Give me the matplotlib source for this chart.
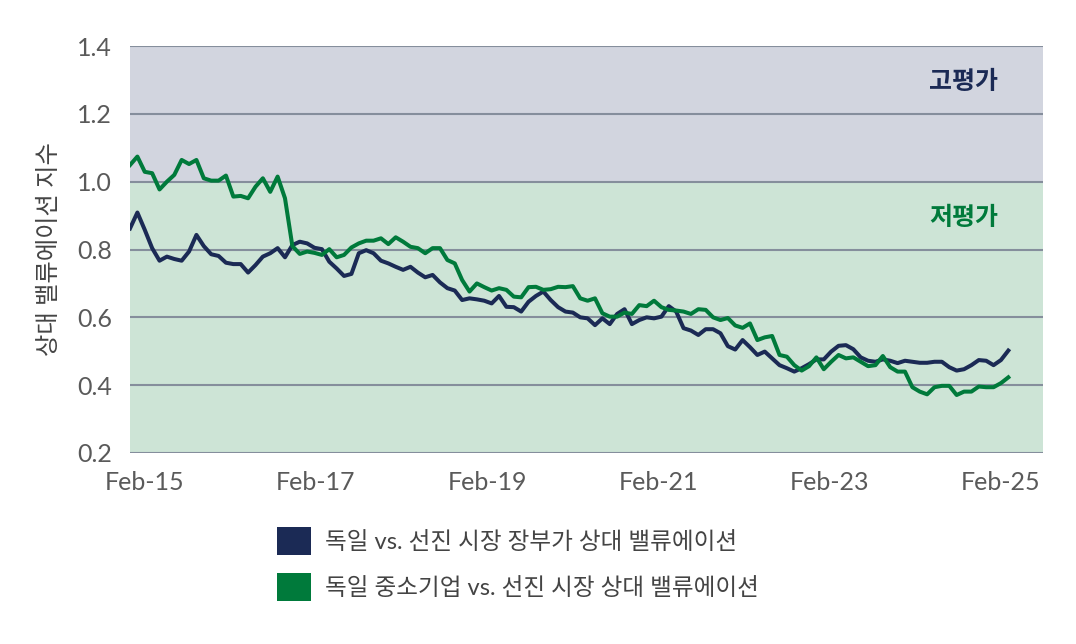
import matplotlib
matplotlib.use("Agg")
import matplotlib.pyplot as plt
from matplotlib.patches import Patch

# monthly relative valuation
germany_pb = [
  0.862, 0.909, 0.858, 0.804, 0.767, 0.779, 0.772, 0.767, 0.794, 0.843,
  0.810, 0.786, 0.781, 0.761, 0.757, 0.757, 0.732, 0.754, 0.779, 0.789,
  0.804, 0.777, 0.813, 0.823, 0.818, 0.805, 0.801, 0.764, 0.744, 0.722,
  0.728, 0.789, 0.798, 0.789, 0.767, 0.759, 0.749, 0.740, 0.749, 0.732,
  0.718, 0.725, 0.703, 0.686, 0.679, 0.651, 0.656, 0.653, 0.649, 0.641,
  0.663, 0.631, 0.630, 0.617, 0.646, 0.663, 0.676, 0.651, 0.630, 0.617,
  0.614, 0.600, 0.597, 0.577, 0.597, 0.580, 0.610, 0.624, 0.580, 0.592,
  0.600, 0.597, 0.602, 0.633, 0.617, 0.568, 0.561, 0.548, 0.565, 0.565,
  0.553, 0.515, 0.505, 0.533, 0.512, 0.489, 0.499, 0.479, 0.459, 0.450,
  0.440, 0.450, 0.462, 0.476, 0.476, 0.499, 0.516, 0.518, 0.506, 0.482,
  0.472, 0.469, 0.476, 0.472, 0.465, 0.472, 0.469, 0.466, 0.466, 0.469,
  0.469, 0.453, 0.443, 0.447, 0.459, 0.474, 0.472, 0.459, 0.474, 0.502,
]
germany_smid = [
  1.049, 1.074, 1.029, 1.025, 0.977, 1.000, 1.020, 1.064, 1.052, 1.064,
  1.010, 1.003, 1.003, 1.018, 0.956, 0.958, 0.951, 0.985, 1.010, 0.970,
  1.015, 0.951, 0.810, 0.787, 0.794, 0.790, 0.784, 0.801, 0.777, 0.784,
  0.806, 0.818, 0.826, 0.826, 0.833, 0.816, 0.836, 0.823, 0.808, 0.804,
  0.789, 0.804, 0.804, 0.769, 0.759, 0.710, 0.676, 0.700, 0.689, 0.679,
  0.686, 0.681, 0.661, 0.659, 0.689, 0.690, 0.681, 0.683, 0.690, 0.689,
  0.692, 0.656, 0.649, 0.656, 0.612, 0.602, 0.602, 0.614, 0.610, 0.636,
  0.633, 0.649, 0.630, 0.622, 0.620, 0.617, 0.610, 0.624, 0.622, 0.600,
  0.592, 0.598, 0.576, 0.569, 0.582, 0.533, 0.541, 0.545, 0.489, 0.484,
  0.459, 0.443, 0.456, 0.482, 0.447, 0.469, 0.489, 0.479, 0.482, 0.469,
  0.456, 0.459, 0.486, 0.453, 0.440, 0.440, 0.394, 0.381, 0.373, 0.394,
  0.398, 0.398, 0.371, 0.381, 0.381, 0.396, 0.394, 0.394, 0.406, 0.423,
]
x_labels = ["Feb-15", "Feb-17", "Feb-19", "Feb-21", "Feb-23", "Feb-25"]
x_label_pos = [2.0, 25.2, 48.4, 71.6, 94.8, 118.0]
y_ticks = [0.2, 0.4, 0.6, 0.8, 1.0, 1.2, 1.4]
series_names = ["독일 vs. 선진 시장 장부가 상대 밸류에이션",
                "독일 중소기업 vs. 선진 시장 상대 밸류에이션"]

NAVY = "#1b2a55"
GREEN = "#007a3b"
fonts = ["Lato", "Noto Sans CJK KR", "DejaVu Sans"]
plt.rcParams['font.family'] = fonts

fig = plt.figure(figsize=(10.76, 6.44), dpi=100)
ax = fig.add_axes([130/1076, 191/644, 913/1076, 407/644])

ax.axhspan(1.0, 1.4, color="#d2d5df", zorder=0, lw=0)
ax.axhspan(0.2, 1.0, color="#cde4d6", zorder=0, lw=0)
for yv in y_ticks:
  ax.axhline(yv, color="#858e9c", lw=1.5, zorder=1)

months = list(range(len(germany_pb)))
ax.plot(months, germany_pb, color=NAVY, lw=2.9, zorder=3, solid_joinstyle="round")
ax.plot(months, germany_smid, color=GREEN, lw=2.9, zorder=3, solid_joinstyle="round")

ax.set_xlim(0, 123.7)
ax.set_ylim(0.2, 1.4)
ax.set_yticks(y_ticks)
ax.set_yticklabels(["%.1f" % v for v in y_ticks])
ax.set_xticks(x_label_pos)
ax.set_xticklabels(x_labels)
ax.tick_params(length=0, labelsize=18, colors="#5a5a5a")
ax.tick_params(axis="y", pad=13)
ax.tick_params(axis="x", pad=13)
for s in ax.spines.values():
  s.set_visible(False)

ax.set_ylabel("상대 밸류에이션 지수", fontsize=17.5, color="#444444", labelpad=12)

ax.text(0.913, 0.914, "고평가", transform=ax.transAxes, ha="center", va="center",
        fontsize=18, fontweight="bold", color=NAVY)
ax.text(0.913, 0.58, "저평가", transform=ax.transAxes, ha="center", va="center",
        fontsize=18, fontweight="bold", color=GREEN)

handles = [Patch(facecolor=NAVY, edgecolor="none"), Patch(facecolor=GREEN, edgecolor="none")]
fig.legend(handles, series_names, loc="upper left",
           bbox_to_anchor=(277/1076, 1 - 527/644), frameon=False,
           borderpad=0, borderaxespad=0,
           fontsize=17, handlelength=1.45, handleheight=1.45,
           handletextpad=0.6, labelspacing=0.75, labelcolor="#444444")

fig.savefig("out.png", dpi=100)
